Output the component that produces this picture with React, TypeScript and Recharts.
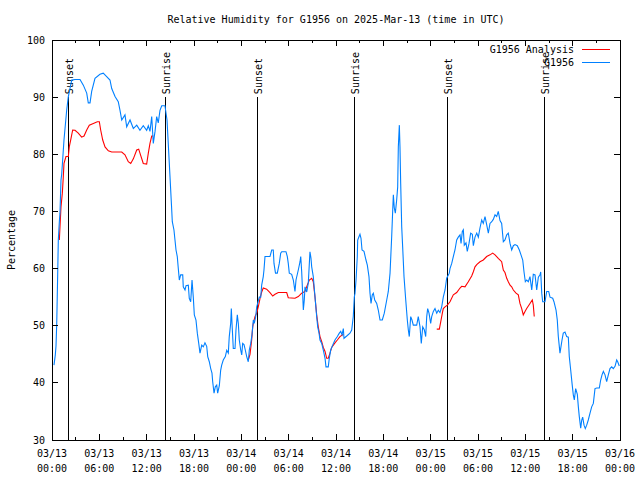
import { LineChart, Line, XAxis, YAxis, ReferenceLine, ReferenceArea } from 'recharts';

// hours since 03/13 00:00 UTC
const obsHours = [
    0.25, 0.42, 0.51, 0.60, 0.72, 0.80, 0.93, 1.01, 1.14, 1.23, 1.52, 1.86, 2.07, 2.50, 2.92, 3.55, 3.97, 4.40, 4.60, 4.82,
    5.03, 5.45, 6.08, 6.50, 6.93, 7.35, 7.57, 7.99, 8.40, 8.62, 8.84, 9.25, 9.47, 9.89, 10.31, 10.74, 11.15, 11.57, 12.00, 12.21,
    12.42, 12.64, 12.84, 13.06, 13.27, 13.47, 13.69, 13.91, 14.32, 14.58, 14.77, 14.96, 15.15, 15.25, 15.46, 15.59, 15.72, 15.88, 16.01, 16.14,
    16.31, 16.57, 16.64, 16.86, 16.99, 17.28, 17.40, 17.58, 17.75, 17.91, 18.04, 18.25, 18.42, 18.60, 18.76, 18.98, 19.18, 19.39, 19.61, 19.74,
    19.94, 20.12, 20.28, 20.37, 20.54, 20.70, 20.88, 21.00, 21.21, 21.38, 21.51, 21.71, 21.97, 22.15, 22.35, 22.47, 22.65, 22.73, 22.82, 22.98,
    23.20, 23.32, 23.49, 23.62, 23.74, 23.92, 24.05, 24.17, 24.34, 24.50, 24.68, 24.88, 25.01, 25.19, 25.35, 25.52, 25.64, 25.82, 25.95, 26.07,
    26.28, 26.46, 26.58, 26.78, 26.87, 27.00, 27.63, 27.85, 28.05, 28.14, 28.33, 28.56, 28.81, 28.99, 29.12, 29.66, 29.83, 29.95, 30.08, 30.38,
    30.59, 30.80, 30.93, 31.22, 31.44, 31.53, 31.65, 31.78, 31.86, 31.98, 32.07, 32.29, 32.49, 32.70, 32.83, 32.92, 33.12, 33.34, 33.55, 33.68,
    33.85, 33.97, 34.19, 34.39, 34.61, 34.73, 35.02, 35.15, 35.33, 35.58, 35.87, 36.17, 36.42, 36.60, 36.76, 36.93, 37.01, 37.36, 37.77, 37.99,
    38.19, 38.32, 38.41, 38.54, 38.70, 38.75, 38.92, 39.04, 39.17, 39.30, 39.55, 39.80, 39.97, 40.18, 40.31, 40.44, 40.60, 40.73, 40.91, 41.16,
    41.36, 41.58, 41.87, 42.12, 42.43, 42.63, 42.85, 43.06, 43.19, 43.27, 43.39, 43.52, 43.69, 43.82, 43.90, 44.03, 44.11, 44.20, 44.33, 44.45,
    44.62, 44.84, 45.04, 45.17, 45.29, 45.47, 45.63, 45.80, 46.23, 46.43, 46.65, 46.81, 46.99, 47.19, 47.37, 47.50, 47.62, 47.79, 48.00, 48.13,
    48.34, 48.55, 48.77, 48.97, 49.18, 49.40, 49.60, 49.82, 50.03, 50.36, 50.45, 50.67, 50.87, 51.08, 51.30, 51.50, 51.72, 51.85, 52.01, 52.14,
    52.26, 52.48, 52.64, 52.86, 53.07, 53.28, 53.41, 53.62, 53.84, 54.04, 54.25, 54.47, 54.67, 54.89, 55.10, 55.31, 55.52, 55.74, 55.94, 56.16,
    56.37, 56.57, 56.79, 57.00, 57.21, 57.42, 57.64, 57.84, 58.06, 58.27, 58.48, 58.69, 58.98, 59.24, 59.45, 59.67, 59.83, 60.00, 60.17, 60.38,
    60.59, 60.81, 61.01, 61.23, 61.44, 61.65, 61.86, 61.95, 62.08, 62.20, 62.49, 62.71, 62.96, 63.13, 63.47, 63.63, 63.89, 64.05, 64.18, 64.39,
    64.48, 64.65, 64.81, 65.03, 65.24, 65.45, 65.57, 65.75, 65.92, 66.08, 66.21, 66.38, 66.59, 66.72, 66.84, 67.02, 67.15, 67.27, 67.44, 67.60,
    67.78, 67.98, 68.20, 68.41, 68.62, 68.83, 69.05, 69.38, 69.55, 69.72, 69.89, 70.10, 70.31, 70.52, 70.73, 70.95, 71.15, 71.37, 71.58, 71.71,
    71.91,
];

const obsRH = [
    43.1, 44.9, 46.5, 50.4, 58.9, 65, 68.2, 69.7, 75.5, 76.5, 82.5, 87.7, 90.1, 93, 93.1, 93.1, 92.1, 90.7, 89, 89,
    91, 93.3, 94, 94.2, 93.6, 93, 91.5, 90.1, 89.2, 87.7, 86, 86.9, 84.8, 86, 84.5, 85.1, 84.2, 85, 84.2, 85,
    84, 86.6, 81.9, 84, 86.6, 85.5, 87.7, 88.5, 88.5, 86, 81, 76, 71, 68.2, 66.75, 65, 63.25, 62.1, 60, 58,
    58.9, 58.9, 56.8, 56.25, 57, 57.1, 54.8, 54.2, 58, 55, 51.9, 51, 48.7, 46.9, 45.2, 46.6, 46.3, 47, 46.4, 44.6,
    43.7, 42.5, 41.7, 40.2, 38.2, 39.3, 39.6, 38.2, 39.5, 42.2, 43.1, 44, 44.6, 45.7, 45.2, 48.1, 50.4, 53, 50.4, 46,
    46, 49.25, 51.9, 50.4, 47.5, 45.75, 44.9, 46.9, 46.7, 45.75, 44.6, 43.7, 45.75, 46.9, 48.4, 51, 50.4, 51.6, 53.3, 53.9,
    55, 55, 57.1, 58.6, 59.75, 62.1, 62.1, 63.25, 63.25, 60.9, 59.2, 59.2, 60.9, 62.7, 62.95, 62.95, 62.1, 60.9, 59.2, 59,
    58, 56, 58, 59.75, 61.2, 62.1, 59.5, 55.4, 52.75, 54.5, 56.8, 55.9, 57.5, 62.95, 61.8, 60.3, 58.6, 55, 51.6, 49.8,
    48.7, 47.5, 46.9, 45.75, 44.3, 42.8, 42.8, 44.3, 45.75, 46.6, 47.5, 48.1, 48.7, 49, 48.4, 49.5, 47.8, 48.2, 48.7, 49.25,
    51.6, 55, 55.7, 58, 62.1, 65, 65.6, 66, 65.3, 63.25, 63, 61.5, 60.6, 58.6, 55.7, 53.9, 55.4, 55.7, 54.5, 53.9,
    52.75, 51, 51, 52.2, 54.5, 56, 59.2, 65.6, 70.25, 72.9, 70.6, 69.7, 72, 74.3, 81.3, 85.1, 81.3, 74.9, 67.3, 63.8,
    58.6, 54.5, 51, 49.25, 48.1, 51.6, 51, 50.1, 50.1, 51.6, 49.8, 46.9, 49.8, 49.3, 48.1, 51.6, 53, 52.2, 50.4, 51.6,
    52.5, 53, 52.2, 52.7, 52.3, 53.3, 55, 56.25, 58.3, 59.2, 60, 60.9, 62.1, 63.25, 65, 65.5, 65.9, 64.4, 66.5, 66.8,
    64.1, 64.5, 63, 64.4, 66.2, 66, 64, 65.5, 66.2, 65.5, 67.1, 68.5, 67.9, 69.1, 67.7, 66.2, 67.9, 68.2, 68.6, 69.4,
    69.1, 70, 68.4, 67.9, 64.7, 65, 65.9, 66.2, 64.4, 63.25, 64, 64.2, 64, 63.25, 62.4, 61.5, 59.45, 57.7, 58, 57.7,
    58.6, 56.25, 59, 58.9, 56.25, 58.5, 58.9, 59.4, 55.7, 54.2, 54.2, 56, 56, 55, 54.8, 54.2, 52.75, 51, 48.1, 45.2,
    46, 47.5, 48.7, 48.9, 48.1, 48, 44.6, 42.25, 39.9, 37.9, 37, 39, 38, 35.8, 34.1, 32.05, 33.5, 34, 32.6, 32,
    32.6, 33.5, 34.7, 35.8, 36.4, 39, 39.1, 39.1, 40.5, 41.4, 42, 41.4, 40.2, 41.4, 42.5, 42.8, 42.5, 42.9, 44, 43.7,
    42.95,
];

// analysis series, null marks a gap
const anaHours = [
    0.93, 1.14, 1.31, 1.43, 1.52, 1.77, 2.07, 2.19, 2.41, 2.62, 2.92, 3.33, 3.76, 4.06, 4.40, 4.73, 5.24, 5.74, 6.00, 6.17,
    6.43, 6.72, 7.14, 7.57, 8.20, 8.84, 9.25, 9.67, 9.98, 10.31, 10.74, 10.99, 11.24, 11.57, 12.00, 12.21, 12.42, 12.64, 12.84,
    18.0,
    24.88, 25.10, 25.31, 25.44, 25.52, 25.73, 25.95, 26.15, 26.37, 26.58, 26.78, 27.21, 27.63, 27.98, 28.27, 28.69, 29.75, 29.95, 30.80, 31.22,
    31.65, 32.07, 32.36, 32.62, 32.92, 33.12, 33.34, 33.55, 33.75, 33.97, 34.19, 34.39, 34.61, 34.82, 35.02, 35.24, 35.45, 35.87, 36.17, 36.50,
    36.93,
    42.0,
    48.77, 49.10, 49.28, 49.48, 49.60, 49.82, 50.11, 50.45, 50.87, 51.30, 51.72, 51.93, 52.35, 52.77, 53.20, 53.41, 53.62, 53.84, 54.25, 54.67,
    55.10, 55.52, 55.86, 56.16, 56.57, 57.00, 57.21, 57.42, 57.64, 57.84, 58.06, 58.27, 58.48, 58.82, 59.11, 59.32, 59.54, 59.74, 59.96, 60.17,
    60.59, 60.88, 61.01, 61.13,
];

const anaRH = [
    65, 70.8, 73.2, 76, 78.4, 79.6, 79.6, 81.3, 82.8, 84.25, 84.2, 83.7, 83, 83.2, 84.25, 85.1, 85.4, 85.7, 85.7, 84.25,
    82.5, 81.3, 80.6, 80.4, 80.4, 80.4, 79.9, 78.7, 78.4, 79.2, 80.75, 80.9, 79.8, 78.4, 78.3, 80.2, 81.9, 83.2, 83.2,
    null,
    44, 45, 47.5, 49.8, 50.4, 51.6, 52.2, 53.3, 54.8, 55.9, 56.6, 56.4, 55.8, 55.2, 55.5, 55.8, 55.8, 54.9, 54.8, 55.1,
    55.7, 56, 57.1, 58, 58.3, 57.7, 55, 51.9, 49.8, 48.1, 47.2, 46.2, 45.5, 44.3, 44.3, 45.2, 46.2, 47, 47.5, 48.1,
    48.5,
    null,
    49.4, 49.4, 50.7, 52.2, 53, 53.3, 53.6, 54.2, 55.4, 55.8, 56.6, 56.9, 56.8, 57.7, 58.7, 59.45, 60.3, 60.7, 61.2, 61.5,
    62.1, 62.4, 62.7, 62.4, 61.8, 61.2, 59.75, 59.3, 58.3, 57.7, 57.1, 56.8, 56.25, 55.7, 55.4, 53.9, 53, 51.9, 52.5, 53,
    53.9, 54.5, 53.6, 51.6,
];

const sunHours = [2.07, 14.41, 26.03, 38.32, 50.11, 62.4];
const sunLabels = ['Sunset', 'Sunrise', 'Sunset', 'Sunrise', 'Sunset', 'Sunrise'];

const xTicks = [0, 3, 6, 9, 12, 15, 18, 21, 24, 27, 30, 33, 36, 39, 42, 45, 48, 51, 54, 57, 60, 63, 66, 69, 72];
const xTickDates = ['03/13', '03/13', '03/13', '03/13', '03/14', '03/14', '03/14', '03/14', '03/15', '03/15', '03/15', '03/15', '03/16'];
const xTickTimes = ['00:00', '06:00', '12:00', '18:00', '00:00', '06:00', '12:00', '18:00', '00:00', '06:00', '12:00', '18:00', '00:00'];
const yTicks = [30, 40, 50, 60, 70, 80, 90, 100];

const obsData = obsHours.map((t, i) => ({ t, rh: obsRH[i] }));
const anaData = anaHours.map((t, i) => ({ t, rh: anaRH[i] }));

const FONT = '"DejaVu Sans Mono", "Liberation Mono", monospace';
const PLOT_TOP = 40;
const PLOT_RIGHT = 620;
const RED = '#ff0000';
const BLUE = '#0080ff';

function XTick({ x, y, payload }: any) {
    const v = payload.value;
    const major = v % 6 === 0;
    const len = major ? 6 : 3;
    return (
        <g>
            <line x1={x} x2={x} y1={y} y2={y - len} stroke="#000" shapeRendering="crispEdges" />
            <line x1={x} x2={x} y1={PLOT_TOP} y2={PLOT_TOP + len} stroke="#000" shapeRendering="crispEdges" />
            {major && (
                <text x={x} y={y} textAnchor="middle" fontFamily={FONT} fontSize={10} fill="#000">
                    <tspan x={x} dy={17}>{xTickDates[v / 6]}</tspan>
                    <tspan x={x} dy={15}>{xTickTimes[v / 6]}</tspan>
                </text>
            )}
        </g>
    );
}

function YTick({ x, y, payload }: any) {
    return (
        <g>
            <line x1={x} x2={x + 6} y1={y} y2={y} stroke="#000" shapeRendering="crispEdges" />
            <line x1={PLOT_RIGHT} x2={PLOT_RIGHT - 6} y1={y} y2={y} stroke="#000" shapeRendering="crispEdges" />
            <text x={x - 7} y={y} dy="0.35em" textAnchor="end" fontFamily={FONT} fontSize={10} fill="#000">
                {payload.value}
            </text>
        </g>
    );
}

function SunLabel({ viewBox, text }: any) {
    const lx = viewBox.x + 4.5;
    const ly = viewBox.y - 3;
    return (
        <text transform={`translate(${lx},${ly}) rotate(-90)`} textAnchor="start" fontFamily={FONT} fontSize={10} fill="#000">
            {text}
        </text>
    );
}

export default function App() {
    return (
        <div style={{ position: 'absolute', left: 0, top: 0, width: 640, height: 480, background: '#fff' }}>
            <LineChart width={640} height={480} margin={{ top: 40, right: 20, bottom: 0, left: 0 }}>
                <XAxis
                    dataKey="t"
                    type="number"
                    domain={[0, 72]}
                    ticks={xTicks}
                    interval={0}
                    height={40}
                    axisLine={false}
                    tickLine={false}
                    tickSize={0}
                    tickMargin={0}
                    tick={<XTick />}
                    allowDataOverflow
                />
                <YAxis
                    type="number"
                    domain={[30, 100]}
                    ticks={yTicks}
                    interval={0}
                    width={52}
                    axisLine={false}
                    tickLine={false}
                    tickSize={0}
                    tickMargin={0}
                    tick={<YTick />}
                    allowDataOverflow
                />
                <ReferenceArea x1={0} x2={72} y1={30} y2={100} fill="none" stroke="#000" strokeWidth={1} shapeRendering="crispEdges" />
                {sunHours.map((h, i) => (
                    <ReferenceLine
                        key={i}
                        segment={[{ x: h, y: 30 }, { x: h, y: 90 }]}
                        stroke="#000"
                        strokeWidth={1.5}
                        shapeRendering="crispEdges"
                        label={<SunLabel text={sunLabels[i]} />}
                    />
                ))}
                <Line data={anaData} dataKey="rh" stroke={RED} strokeWidth={1.1} dot={false} type="linear" isAnimationActive={false} connectNulls={false} />
                <Line data={obsData} dataKey="rh" stroke={BLUE} strokeWidth={1.1} dot={false} type="linear" isAnimationActive={false} />
            </LineChart>
            <svg width={640} height={480} style={{ position: 'absolute', left: 0, top: 0, pointerEvents: 'none' }}>
                <text x={336} y={23} textAnchor="middle" fontFamily={FONT} fontSize={10} fill="#000">
                    Relative Humidity for G1956 on 2025-Mar-13 (time in UTC)
                </text>
                <text transform="translate(15,240) rotate(-90)" textAnchor="middle" fontFamily={FONT} fontSize={10} fill="#000">
                    Percentage
                </text>
                <text x={574} y={53} textAnchor="end" fontFamily={FONT} fontSize={10} fill="#000">G1956 Analysis</text>
                <line x1={582} x2={610} y1={49.5} y2={49.5} stroke={RED} />
                <text x={574} y={66} textAnchor="end" fontFamily={FONT} fontSize={10} fill="#000">G1956</text>
                <line x1={582} x2={610} y1={62.5} y2={62.5} stroke={BLUE} />
            </svg>
        </div>
    );
}
